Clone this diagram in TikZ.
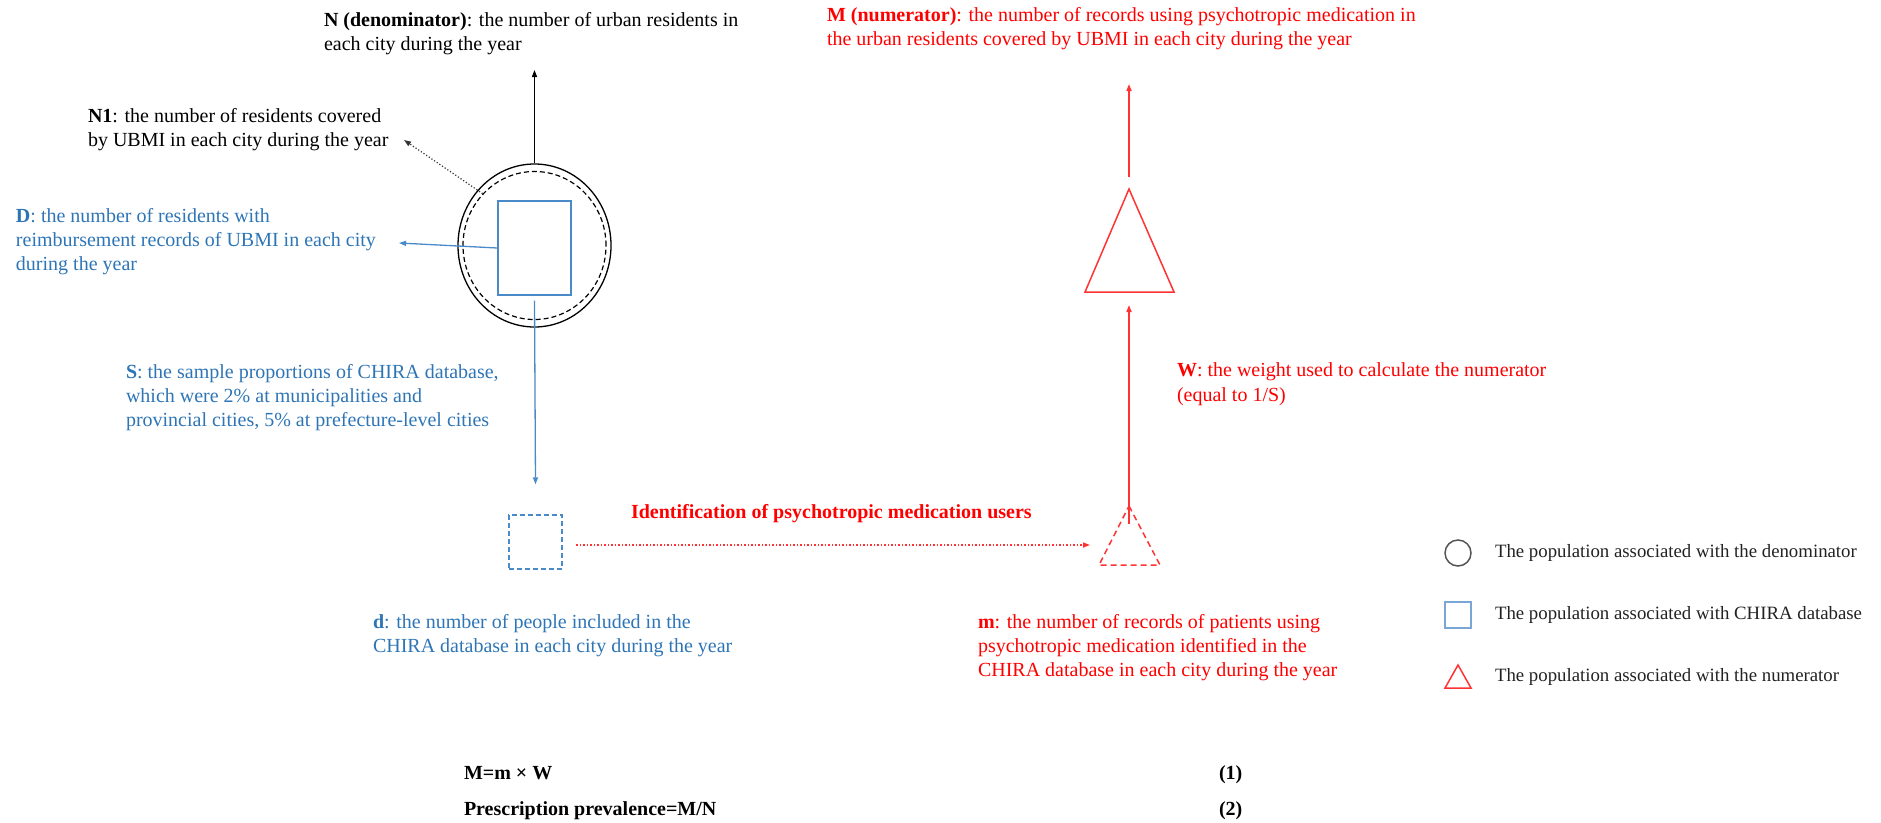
\documentclass[tikz,border=0pt]{standalone}
\usepackage{fontspec}
\setmainfont{Liberation Serif}
\usetikzlibrary{shapes.geometric,arrows.meta}
\definecolor{bluetxt}{HTML}{2E75B6}
\definecolor{blueln}{HTML}{4A8AC8}
\definecolor{redtxt}{HTML}{FF0000}
\definecolor{redln}{HTML}{FF3333}
\definecolor{legcirc}{HTML}{555555}
\definecolor{legsq}{HTML}{7AA6D6}
\definecolor{legtxt}{HTML}{222222}
\begin{document}
\begin{tikzpicture}[x=1pt,y=-1pt,
  font=\fontsize{20}{24.3}\selectfont,
  lbl/.style={anchor=north west, inner sep=0pt, outer sep=0pt, align=left},
  tip/.style={-{Triangle[length=7pt,width=5pt]}},
  blk/.style={draw=black, line width=1.3pt},
  bln/.style={draw=blueln, line width=1.3pt},
  rln/.style={draw=redln, line width=1.5pt},
  legfont/.style={font=\fontsize{18.8}{23}\selectfont, text=legtxt},
  eqfont/.style={font=\fontsize{20}{24.3}\selectfont\bfseries}]
\useasboundingbox (0,0) rectangle (1881,822);

% ---------- shapes ----------
\node[blk, ellipse, minimum width=153pt, minimum height=163pt, inner sep=0pt] (pop) at (534.5,245.5) {};
\node[draw=black, line width=1.2pt, dash pattern=on 5pt off 3pt, ellipse, minimum width=143pt, minimum height=148pt, inner sep=0pt] (ubmi) at (534.5,245.5) {};
\node[bln, rectangle, minimum width=73pt, minimum height=94pt, inner sep=0pt] (reimb) at (534.5,248) {};
\node[bln, dash pattern=on 5pt off 3pt, rectangle, minimum width=53pt, minimum height=54pt, inner sep=0pt] (sq) at (535.5,542) {};

% small dashed triangle
\coordinate (st-top) at (1129,506);
\coordinate (st-l) at (1099,565);
\coordinate (st-r) at (1160,565);
\draw[rln, dash pattern=on 6pt off 4pt] (st-top) -- (st-r) -- (st-l) -- cycle;
% big triangle
\coordinate (bt-top) at (1129,189);
\coordinate (bt-l) at (1085,292);
\coordinate (bt-r) at (1174,292);
\draw[rln, line join=miter] (bt-top) -- (bt-r) -- (bt-l) -- cycle;

% ---------- texts ----------
\node[lbl] (ntxt) at (324,12) {\textbf{N (denominator)}: the number of urban residents in\\each city during the year};
\node[lbl, text=redtxt] (mtxt) at (827,7) {\textbf{M (numerator)}: the number of records using psychotropic medication in\\the urban residents covered by UBMI in each city during the year};
\node[lbl] (n1txt) at (88,108) {\textbf{N1}: the number of residents covered\\by UBMI in each city during the year};
\node[lbl, text=bluetxt] (dtxt) at (16,208) {\textbf{D}: the number of residents with\\reimbursement records of UBMI in each city\\during the year};
\node[lbl, text=bluetxt] (stxt) at (126,364) {\textbf{S}: the sample proportions of CHIRA database,\\which were 2\% at municipalities and\\provincial cities, 5\% at prefecture-level cities};
\node[lbl, text=bluetxt] (dsmall) at (373,614) {\textbf{d}: the number of people included in the\\CHIRA database in each city during the year};
\node[lbl, text=redtxt] (wtxt) at (1177,363) {\textbf{W}: the weight used to calculate the numerator\\(equal to 1/S)};
\node[lbl, text=redtxt] (msmall) at (978,614) {\textbf{m}: the number of records of patients using\\psychotropic medication identified in the\\CHIRA database in each city during the year};
\node[lbl, text=redtxt, eqfont] (ident) at (631,504) {Identification of psychotropic medication users};

% ---------- connectors ----------
\coordinate (ntip) at (534.5,70);
\draw[blk, tip] (pop.north) -- (ntip);
\coordinate (n1tip) at (404,140);
\draw[draw=black!80, line width=1.2pt, dotted, tip] (ubmi.135) -- (n1tip);
\coordinate (dtip) at (399,243);
\draw[bln, tip] (reimb.west) -- (dtip);
\draw[bln, tip] ([yshift=-5pt]reimb.south) -- ([yshift=30pt]sq.north);
\coordinate (idstart) at (576,545);
\coordinate (idend) at (1090,545);
\draw[rln, dotted, tip] (idstart) -- (idend);
\draw[rln, tip] ([yshift=-18pt]st-top) -- ([yshift=-13pt]bt-l -| st-top);
\coordinate (mtip) at (1129,84);
\draw[rln, tip] ([yshift=12pt]bt-top) -- (mtip);

% ---------- legend ----------
\node[draw=legcirc, line width=1.5pt, circle, minimum size=26pt, inner sep=0pt] (legc) at (1458,553) {};
\node[draw=legsq, line width=1.5pt, rectangle, minimum size=26pt, inner sep=0pt] (legs) at (1458,615) {};
\coordinate (lt-top) at (1458,665);
\coordinate (lt-l) at (1445,688);
\coordinate (lt-r) at (1471,688);
\draw[draw=redln, line width=1.5pt] (lt-top) -- (lt-r) -- (lt-l) -- cycle;
\node[lbl, legfont] (legct) at (1495,544) {The population associated with the denominator};
\node[lbl, legfont] (legst) at (1495,606) {The population associated with CHIRA database};
\node[lbl, legfont] (legtt) at (1495,668) {The population associated with the numerator};

% ---------- equations ----------
\node[lbl, eqfont] (eq1) at (464,766) {M=m × W};
\node[lbl, eqfont] (eq1n) at (1219,766) {(1)};
\node[lbl, eqfont] (eq2) at (464,802) {Prescription prevalence=M/N};
\node[lbl, eqfont] (eq2n) at (1219,802) {(2)};
\end{tikzpicture}
\end{document}
